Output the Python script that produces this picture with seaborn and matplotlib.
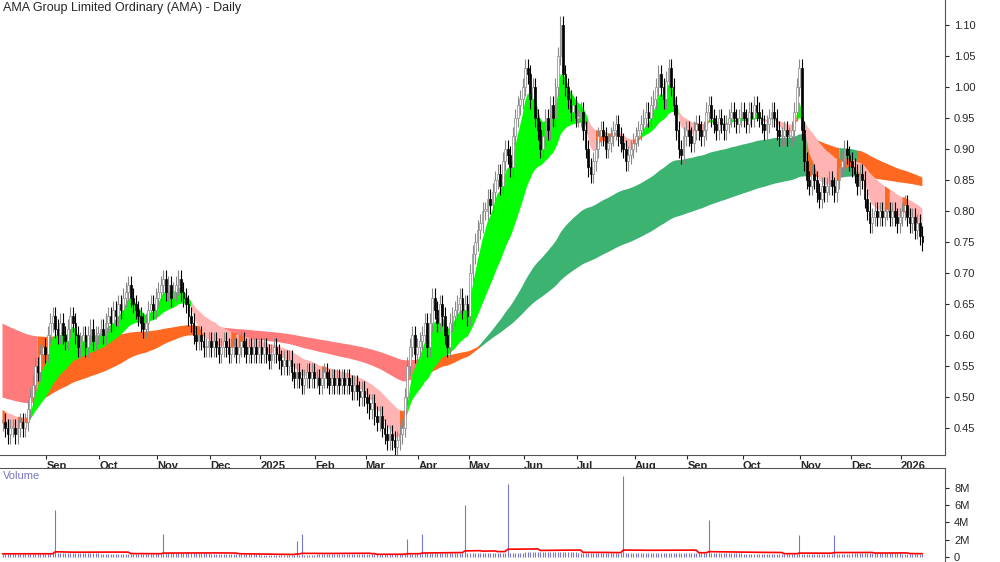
import numpy as np
import pandas as pd
import seaborn as sns
import matplotlib.pyplot as plt
import matplotlib.transforms as mtransforms

# daily closes, one list per month (Aug 2024 .. Jan 2026)
aug24 = [0.46, 0.45, 0.44, 0.45, 0.45, 0.44, 0.45, 0.46, 0.45, 0.46, 0.48, 0.50, 0.52, 0.55, 0.54, 0.57, 0.58, 0.57]
sep24 = [0.60, 0.62, 0.63, 0.61, 0.60, 0.62, 0.60, 0.59, 0.61, 0.63, 0.62, 0.60, 0.58, 0.59, 0.60, 0.58, 0.60, 0.61, 0.59, 0.60, 0.60]
oct24 = [0.61, 0.60, 0.62, 0.63, 0.62, 0.64, 0.63, 0.65, 0.64, 0.66, 0.67, 0.68, 0.66, 0.65, 0.64, 0.63, 0.62, 0.61, 0.62, 0.64, 0.65, 0.64, 0.66]
nov24 = [0.67, 0.68, 0.69, 0.67, 0.68, 0.66, 0.67, 0.68, 0.69, 0.67, 0.66, 0.65, 0.63, 0.62, 0.60, 0.59, 0.60, 0.59, 0.58, 0.58, 0.59]
dec24 = [0.58, 0.59, 0.58, 0.57, 0.58, 0.59, 0.58, 0.57, 0.58, 0.58, 0.57, 0.58, 0.59, 0.58, 0.57, 0.58, 0.57, 0.58, 0.57, 0.58]
jan25 = [0.57, 0.58, 0.57, 0.56, 0.57, 0.58, 0.57, 0.56, 0.55, 0.56, 0.55, 0.56, 0.54, 0.53, 0.54, 0.53, 0.52, 0.53, 0.54, 0.53, 0.54, 0.53]
feb25 = [0.53, 0.52, 0.53, 0.54, 0.53, 0.52, 0.53, 0.52, 0.53, 0.52, 0.53, 0.52, 0.53, 0.52, 0.51, 0.52, 0.51, 0.50, 0.51, 0.50]
mar25 = [0.49, 0.48, 0.49, 0.47, 0.46, 0.47, 0.45, 0.44, 0.43, 0.44, 0.43, 0.42, 0.43, 0.44, 0.45, 0.50, 0.55, 0.58, 0.60, 0.57, 0.58]
apr25 = [0.59, 0.60, 0.62, 0.58, 0.62, 0.66, 0.64, 0.62, 0.65, 0.63, 0.60, 0.58, 0.62, 0.63, 0.64, 0.65, 0.66, 0.64, 0.65, 0.63]
may25 = [0.70, 0.73, 0.75, 0.77, 0.78, 0.80, 0.80, 0.82, 0.81, 0.83, 0.85, 0.86, 0.84, 0.88, 0.90, 0.89, 0.87, 0.92, 0.95, 0.97, 0.98, 1.00]
jun25 = [1.03, 1.02, 0.98, 1.00, 0.95, 0.93, 0.90, 0.92, 0.95, 0.93, 0.97, 0.95, 1.00, 1.05, 1.10, 1.02, 1.00, 0.98, 0.96, 0.97, 0.95]
jul25 = [0.95, 0.96, 0.93, 0.90, 0.87, 0.86, 0.88, 0.90, 0.92, 0.93, 0.92, 0.90, 0.91, 0.92, 0.93, 0.94, 0.92, 0.91, 0.90, 0.88, 0.89, 0.90, 0.91]
aug25 = [0.92, 0.93, 0.94, 0.95, 0.96, 0.95, 0.97, 0.98, 1.00, 1.02, 1.00, 0.98, 1.01, 1.03, 1.00, 0.97, 0.93, 0.90, 0.89, 0.92, 0.93]
sep25 = [0.92, 0.91, 0.93, 0.94, 0.93, 0.92, 0.93, 0.96, 0.97, 0.95, 0.94, 0.93, 0.95, 0.94, 0.93, 0.94, 0.95, 0.96, 0.95, 0.94, 0.95, 0.96]
oct25 = [0.95, 0.94, 0.96, 0.95, 0.97, 0.96, 0.95, 0.94, 0.93, 0.94, 0.95, 0.96, 0.95, 0.93, 0.92, 0.92, 0.93, 0.92, 0.92, 0.93, 0.96, 1.00, 1.03]
nov25 = [0.93, 0.88, 0.85, 0.84, 0.86, 0.85, 0.83, 0.82, 0.84, 0.83, 0.84, 0.85, 0.84, 0.83, 0.85, 0.87, 0.88, 0.90, 0.89, 0.88]
dec25 = [0.87, 0.86, 0.84, 0.86, 0.85, 0.82, 0.80, 0.78, 0.79, 0.80, 0.79, 0.80, 0.79, 0.80, 0.80, 0.79, 0.80, 0.79, 0.78, 0.79]
jan26 = [0.80, 0.81, 0.79, 0.78, 0.79, 0.77, 0.78, 0.76, 0.75]

months = [aug24, sep24, oct24, nov24, dec24, jan25, feb25, mar25, apr25,
          may25, jun25, jul25, aug25, sep25, oct25, nov25, dec25, jan26]
month_labels = ["", "Sep", "Oct", "Nov", "Dec", "2025", "Feb", "Mar", "Apr",
                "May", "Jun", "Jul", "Aug", "Sep", "Oct", "Nov", "Dec", "2026"]

# typical daily volume per month (millions) and the spike days (day index -> millions)
vol_month = [0.35, 0.4, 0.35, 0.4, 0.3, 0.25, 0.3, 0.3, 0.4, 0.45, 0.55, 0.45, 0.5, 0.4, 0.35, 0.35, 0.4, 0.3]
vol_spikes = {21: 5.4, 64: 2.6, 117: 1.8, 119: 2.6, 161: 2.1, 167: 2.7,
              184: 6.0, 201: 8.5, 247: 9.4, 281: 4.3, 317: 2.5, 331: 2.5}

# EMA periods and start values (history before the chart)
short_periods = [6, 10, 16, 20, 24, 30]
long_periods = [90, 105, 120, 135, 150, 180]
short_seed = [0.455, 0.46, 0.465, 0.47, 0.475, 0.48]
long_seed = [0.50, 0.53, 0.56, 0.58, 0.60, 0.62]

close = np.concatenate(months)
n = len(close)
x = np.arange(n)
opn = np.r_[close[0], close[:-1]]
high = np.maximum(opn, close) + 0.015
low = np.minimum(opn, close) - 0.015
starts = np.cumsum([0] + [len(m) for m in months[:-1]])

vol = np.concatenate([[v] * len(m) for v, m in zip(vol_month, months)])
for k, v in vol_spikes.items():
    vol[k] = v
df_vol = pd.DataFrame({"x": x, "ma": pd.Series(vol).rolling(30, min_periods=1).mean() * 1e6})


def ema(p, seed):
    a = 2 / (p + 1)
    out = np.empty(n)
    prev = seed
    for i in range(n):
        prev = prev + a * (close[i] - prev)
        out[i] = prev
    return out


S = np.array([ema(p, s) for p, s in zip(short_periods, short_seed)])
L = np.array([ema(p, s) for p, s in zip(long_periods, long_seed)])
s_lo, s_hi = S.min(0), S.max(0)
l_lo, l_hi = L.min(0), L.max(0)

s_col = np.where(S[0] > S[-1], "#00ff00", np.where(close < s_lo, "#ffb3b3", "#ff6820"))
l_col = np.where((L[0] > L[-1]) & (close > l_lo), "#3cb371",
                 np.where((L[0] < L[-1]) & (s_hi < l_lo + 0.02), "#ff7b7b", "#ff6820"))

sns.set_style("white")
plt.rcParams['font.family'] = ['Liberation Sans', 'DejaVu Sans']
fig = plt.figure(figsize=(10, 5.62), dpi=100)
ax = fig.add_axes([0, 1 - 455 / 562, 0.945, 455 / 562])
axv = fig.add_axes([0, 0, 0.945, 94 / 562])


def band(lo, hi, cols):
    for c in np.unique(cols):
        m = cols == c
        m = m | np.r_[False, m[:-1]]
        ax.fill_between(x, lo, hi, where=m, color=c, lw=0, zorder=1)


band(l_lo, l_hi, l_col)
band(s_lo, s_hi, s_col)

up = close >= opn
ax.vlines(x, low, high, color=np.where(up, "#888888", "black"), lw=0.8, zorder=2)
ax.bar(x, np.maximum(np.abs(close - opn), 0.003), bottom=np.minimum(opn, close), width=0.7,
       color=np.where(up, "white", "black"), edgecolor=np.where(up, "#888888", "black"), lw=0.5, zorder=3)

ax.set_xlim(-1, 375)
ax.set_ylim(0.4065, 1.14)
ax.set_yticks(np.arange(0.45, 1.11, 0.05))
ax.set_yticklabels([f"{v:.2f}" for v in np.arange(0.45, 1.11, 0.05)])
ax.yaxis.tick_right()
ax.tick_params(axis="y", length=3, labelsize=8, direction="out", right=True)
ax.set_xticks(starts[1:] - 0.5)
ax.set_xticklabels(month_labels[1:], ha="left", fontsize=8, fontweight="bold")
off = mtransforms.ScaledTranslation(2 / 72, 0, fig.dpi_scale_trans)
for lab in ax.get_xticklabels():
    lab.set_transform(lab.get_transform() + off)
ax.tick_params(axis="x", length=3, pad=1, bottom=True)
for s in ["top", "left"]:
    ax.spines[s].set_visible(False)
ax.spines["right"].set_color("#555555")
ax.spines["bottom"].set_color("#555555")
ax.text(0.003, 0.995, "AMA Group Limited Ordinary (AMA) - Daily", transform=ax.transAxes,
        va="top", ha="left", fontsize=9)

axv.vlines(x, 0, vol * 1e6, color="#7777cc", lw=0.8)
sns.lineplot(data=df_vol, x="x", y="ma", ax=axv, color="red", lw=1.2)
axv.set_xlim(-1, 375)
axv.set_ylim(-0.6e6, 10.3e6)
axv.set_yticks([0, 2e6, 4e6, 6e6, 8e6])
axv.set_yticklabels(["0", "2M", "4M", "6M", "8M"])
axv.yaxis.tick_right()
axv.tick_params(axis="y", length=3, labelsize=8, right=True)
axv.set_xticks([])
axv.set_xlabel("")
axv.set_ylabel("")
for s in ["bottom", "left"]:
    axv.spines[s].set_visible(False)
axv.spines["right"].set_color("#555555")
axv.spines["top"].set_color("#555555")
axv.text(0.003, 0.97, "Volume", transform=axv.transAxes, va="top", ha="left", fontsize=8, color="#7777bb")

fig.savefig("out.png", dpi=100)
